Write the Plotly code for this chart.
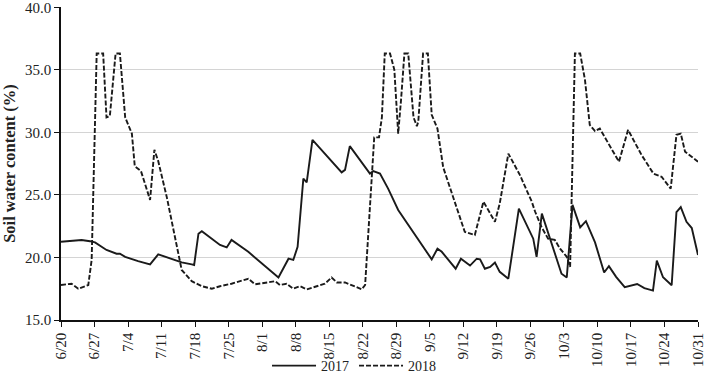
import pandas as pd
import plotly.graph_objects as go

# Day offsets from 6/20 and soil water content (%)
days_2017 = [0, 4.3, 6.05, 7.1, 9.5, 11.6, 12.3, 13.4, 16.1, 18.6, 20.3, 23.1, 25.2, 27.3, 27.8,
             28.7, 29.4, 33.2, 34.6, 35.6, 39.1, 45.4, 47.5, 48.5, 49.4, 50.6, 51.3, 52.5, 58.6,
             59.3, 60.3, 64.5, 65.2, 66.6, 68.3, 70.4, 73.2, 77.4, 78.6, 79.5, 82.4, 83.5, 85.4,
             86.8, 87.5, 88.5, 89.6, 90.6, 91.6, 93.4, 95.6, 98.6, 99.3, 100.4, 104.5, 105.6,
             106.8, 108.4, 109.6, 111.5, 113.4, 114.4, 115.9, 117.7, 120.3, 121.8, 123.6, 124.4,
             125.7, 127.5, 128.5, 129.4, 130.6, 131.7, 133]
vals_2017 = [21.25, 21.4, 21.3, 21.2, 20.6, 20.3, 20.3, 20.05, 19.7, 19.45, 20.25, 19.9, 19.6, 19.45, 19.4,
             21.9, 22.1, 21.0, 20.8, 21.4, 20.45, 18.4, 19.9, 19.8, 20.85, 26.3, 26.0, 29.4, 26.8,
             27.0, 28.9, 26.7, 26.9, 26.7, 25.5, 23.8, 22.2, 19.85, 20.7, 20.45, 19.1, 19.9, 19.35,
             19.9, 19.85, 19.1, 19.25, 19.6, 18.85, 18.3, 23.9, 21.5, 20.05, 23.5, 18.7, 18.4,
             24.2, 22.4, 22.9, 21.2, 18.8, 19.3, 18.45, 17.62, 17.88, 17.55, 17.35, 19.75,
             18.42, 17.78, 23.62, 24.02, 22.85, 22.35, 20.2]

days_2018 = [0, 2.2, 3.6, 5.7, 6.4, 7.45, 8.8, 9.5, 10.2, 11.4, 12.3, 13.4, 14.8, 15.4, 16.7, 18.6,
             19.5, 20.3, 22.1, 25.2, 27.3, 29.4, 31.5, 33.2, 35.6, 39.1, 40.5, 44.7, 45.7, 47.1,
             48.5, 49.9, 51.3, 55.1, 56.5, 57.6, 59.3, 61.4, 62.8, 63.5, 65.4, 66.4, 67.0, 67.6,
             68.7, 69.6, 70.4, 71.0, 71.7, 72.5, 73.6, 74.3, 74.6, 75.6, 76.6, 77.4, 78.6, 79.8,
             81.6, 84.3, 86.4, 88.2, 88.9, 90.6, 91.6, 93.4, 95.8, 98.3, 99.0, 100.3, 101.7,
             103.1, 104.2, 105.6, 106.3, 107.3, 108.4, 109.4, 110.4, 111.5, 112.5, 116.5, 118.4,
             121.2, 123.7, 125.4, 127.3, 128.5, 129.4, 130.3, 133]
vals_2018 = [17.8, 17.9, 17.5, 17.8, 19.8, 36.3, 36.3, 31.2, 31.3, 36.3, 36.3, 31.2, 29.9, 27.3, 26.9, 24.6,
             28.6, 27.7, 24.8, 19.0, 18.1, 17.7, 17.5, 17.7, 17.9, 18.3, 17.85, 18.1, 17.8, 17.9,
             17.5, 17.7, 17.45, 17.9, 18.4, 18.0, 18.0, 17.7, 17.45, 17.8, 29.6, 29.6, 31.2, 36.3,
             36.3, 35.0, 29.9, 32.6, 36.3, 36.3, 31.2, 30.5, 30.85, 36.3, 36.3, 31.4, 30.3, 27.2,
             25.1, 22.05, 21.8, 24.45, 24.0, 22.85, 24.3, 28.3, 26.6, 24.45, 23.65, 22.45, 21.5,
             21.4, 20.7, 20.05, 19.25, 36.3, 36.3, 34.2, 30.6, 30.1, 30.3, 27.65, 30.2,
             28.2, 26.7, 26.45, 25.5, 29.8, 29.9, 28.45, 27.65]

tick_days = list(range(0, 134, 7))
y_ticks = [15, 20, 25, 30, 35, 40]

base = pd.Timestamp("2000-06-20")
to_dates = lambda d: base + pd.to_timedelta(d, unit="D")

FONT = "Liberation Serif"
fig = go.Figure()
fig.add_trace(go.Scatter(x=to_dates(days_2017), y=vals_2017, mode="lines", name="2017",
                         line=dict(color="#1a1a1a", width=1.9)))
fig.add_trace(go.Scatter(x=to_dates(days_2018), y=vals_2018, mode="lines", name="2018",
                         line=dict(color="#1a1a1a", width=1.9, dash="5px,2px")))

fig.update_layout(
    width=707, height=375,
    margin=dict(l=61, r=9, t=7, b=55, autoexpand=False),
    plot_bgcolor="white", paper_bgcolor="white",
    font=dict(family=FONT, size=15, color="#222"),
    showlegend=True,
    legend=dict(orientation="h", x=0.46, xanchor="center", y=-0.147, yanchor="middle",
                itemwidth=44, font=dict(family=FONT, size=14, color="#222"),
                bgcolor="rgba(0,0,0,0)", tracegroupgap=0),
)
fig.update_xaxes(
    range=[base, to_dates(133)], tickmode="array", tickvals=to_dates(tick_days),
    tickformat="%-m/%-d", tickangle=-90, ticks="outside", ticklen=5, tickcolor="#111",
    showline=True, linecolor="#111", linewidth=1.5, showgrid=False, zeroline=False,
    tickfont=dict(family=FONT, size=15, color="#222"), ticklabeloverflow="allow",
)
fig.update_yaxes(
    range=[15, 40.02], tickmode="array", tickvals=y_ticks, tickformat=".1f",
    ticks="outside", ticklen=5, tickcolor="#111",
    showline=True, linecolor="#111", linewidth=1.5,
    showgrid=True, gridcolor="#d4d4d4", gridwidth=1, zeroline=False,
    tickfont=dict(family=FONT, size=15, color="#222"), ticklabeloverflow="allow",
    title=dict(text="<b>Soil water content (%)</b>", font=dict(family=FONT, size=16.5, color="#222"),
               standoff=5),
)

fig.write_html("out.html")
